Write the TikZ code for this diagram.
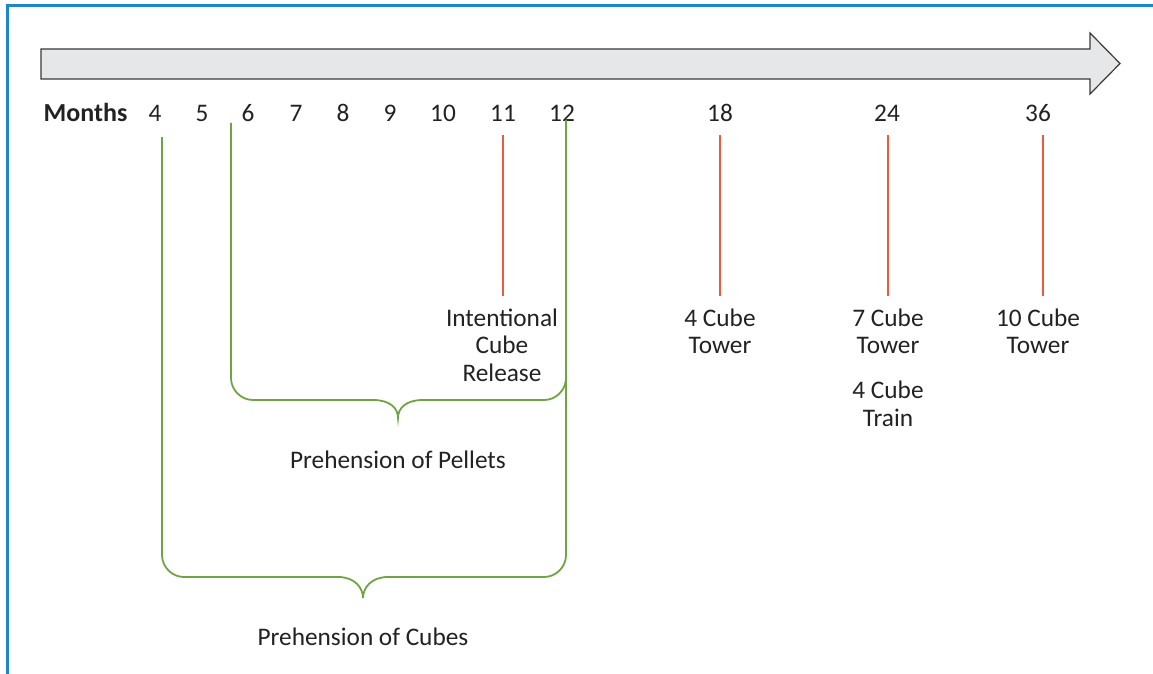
\documentclass[tikz,border=0pt]{standalone}
\usepackage{fontspec}
\setmainfont{Carlito}
\definecolor{frameblue}{HTML}{1E86CE}
\definecolor{bracegreen}{HTML}{6FA443}
\definecolor{markred}{HTML}{EE5B3C}
\definecolor{arrowfill}{HTML}{E6E7E8}
\definecolor{arrowline}{HTML}{3A3A3A}
\definecolor{txt}{HTML}{222222}
\begin{document}
\begin{tikzpicture}[x=1pt,y=-1pt,
  lbl/.style={text=txt,font=\fontsize{25.3}{27.5}\selectfont,align=center,inner sep=0pt},
  tick/.style={draw=markred,line width=1.8pt},
  brace/.style={draw=bracegreen,line width=1.8pt},
  frame/.style={draw=frameblue,line width=3pt}]
\useasboundingbox (0,0) rectangle (1153,674);
\fill[white] (0,0) rectangle (1153,674);
% outer frame (top and left edges)
\draw[frame] (1153,6) -- (7,6) -- (7,674);
% time arrow
\draw[fill=arrowfill,draw=arrowline,line width=1.2pt,line join=miter]
  (41,49) -- (1090,49) -- (1090,33) -- (1120,63.5) -- (1090,94) -- (1090,79) -- (41,79) -- cycle;
% month labels
\node[lbl,font=\fontsize{26}{28}\selectfont\bfseries] (months) at (85.5,112) {Months};
\foreach \m/\x in {4/155,5/202,6/248,7/296,8/343,9/390,10/443,11/503,12/562,18/720,24/887,36/1038}
  \node[lbl] (m\m) at (\x,113) {\m};
% milestone markers
\foreach \m/\x in {11/503,18/720,24/888,36/1043}{
  \coordinate (t\m a) at (\x,135);
  \coordinate (t\m b) at (\x,296);
  \draw[tick] (t\m a) -- (t\m b);
}
% milestone descriptions
\node[lbl] (release) at (502,345) {Intentional\\Cube\\Release};
\node[lbl] (tower4) at (720,331.5) {4 Cube\\Tower};
\node[lbl] (tower7) at (888,331.5) {7 Cube\\Tower};
\node[lbl] (train4) at (888,404) {4 Cube\\Train};
\node[lbl] (tower10) at (1038,331.5) {10 Cube\\Tower};
% bracket: prehension of pellets
\coordinate (pa) at (231,123);
\coordinate (pb) at (566,350);
\draw[brace] (pa) -- (231,378)
  .. controls (231,390) and (241,400) .. (253,400) -- (373,400)
  .. controls (390,400) and (398,408) .. (398,418)
  .. controls (398,408) and (406,400) .. (423,400) -- (544,400)
  .. controls (556,400) and (566,390) .. (566,378) -- (pb);
\node[lbl] (pellets) at (398,460) {Prehension of Pellets};
% bracket: prehension of cubes
\coordinate (ca) at (162,137);
\coordinate (cb) at (566,120);
\draw[brace] (ca) -- (162,555)
  .. controls (162,567) and (172,577) .. (184,577) -- (338,577)
  .. controls (355,577) and (363,588) .. (363,598)
  .. controls (363,588) and (371,577) .. (388,577) -- (544,577)
  .. controls (556,577) and (566,567) .. (566,555) -- (cb);
\node[lbl] (cubes) at (363,637) {Prehension of Cubes};
\end{tikzpicture}
\end{document}
